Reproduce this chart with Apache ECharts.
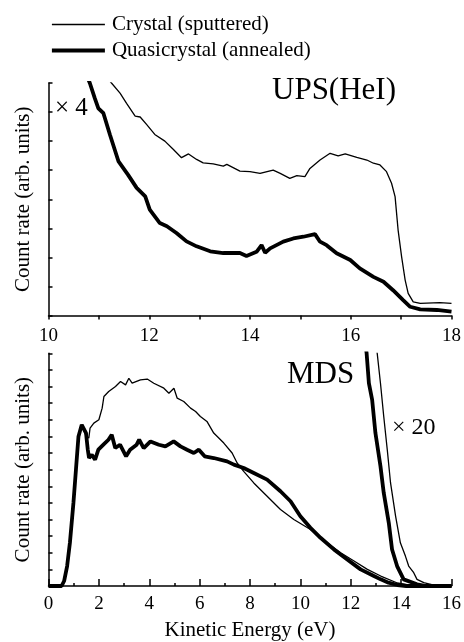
<!DOCTYPE html>
<html>
<head>
<meta charset="utf-8">
<script src="https://cdn.jsdelivr.net/npm/echarts/dist/echarts.min.js"></script>
<style>
  html, body { margin: 0; padding: 0; background: #fff; }
  #chart { width: 464px; height: 642px; }
</style>
</head>
<body>
<div id="chart"></div>
<script>
// UPS(HeI) panel, x4 scale
const upsEnergyCrystal = [11.15, 11.25, 11.42, 11.55, 11.72, 11.82, 11.95, 12.11, 12.31, 12.48, 12.64, 12.78, 12.94, 13.07, 13.27, 13.47, 13.54, 13.8, 14.0, 14.2, 14.46, 14.6, 14.79, 14.93, 15.09, 15.19, 15.39, 15.59, 15.75, 15.89, 16.12, 16.32, 16.45, 16.58, 16.71, 16.81, 16.88, 16.94, 17.01, 17.08, 17.14, 17.24, 17.38, 17.77, 18.0];
const upsCountCrystal = [8.2, 8.0, 7.65, 7.3, 6.86, 6.83, 6.57, 6.23, 6.0, 5.71, 5.43, 5.56, 5.37, 5.25, 5.22, 5.14, 5.2, 4.97, 4.95, 4.89, 5.0, 4.89, 4.72, 4.81, 4.78, 5.06, 5.35, 5.58, 5.49, 5.56, 5.44, 5.35, 5.24, 5.18, 4.95, 4.55, 4.09, 2.94, 2.02, 1.22, 0.76, 0.47, 0.42, 0.44, 0.42];

const upsEnergyQuasi = [10.75, 10.82, 10.92, 10.99, 11.09, 11.22, 11.39, 11.58, 11.75, 11.92, 12.01, 12.21, 12.35, 12.54, 12.74, 12.94, 13.21, 13.47, 13.8, 13.93, 14.13, 14.23, 14.3, 14.4, 14.66, 14.86, 15.06, 15.29, 15.39, 15.52, 15.72, 15.99, 16.18, 16.45, 16.65, 16.84, 17.04, 17.18, 17.38, 17.71, 18.0];
const upsCountQuasi = [8.3, 8.0, 7.47, 7.13, 6.96, 6.22, 5.3, 4.84, 4.39, 4.1, 3.64, 3.18, 3.07, 2.84, 2.55, 2.38, 2.21, 2.15, 2.15, 2.05, 2.19, 2.42, 2.16, 2.31, 2.54, 2.65, 2.71, 2.8, 2.54, 2.42, 2.14, 1.91, 1.62, 1.33, 1.16, 0.87, 0.53, 0.3, 0.21, 0.19, 0.13];

// MDS panel
const mdsEnergyCrystal = [0, 0.52, 0.62, 0.74, 0.85, 0.99, 1.09, 1.19, 1.32, 1.38, 1.5, 1.6, 1.65, 1.8, 2.0, 2.13, 2.2, 2.39, 2.66, 2.86, 3.06, 3.19, 3.32, 3.65, 3.92, 4.18, 4.58, 4.78, 4.98, 5.11, 5.37, 5.64, 5.84, 6.03, 6.29, 6.56, 6.96, 7.29, 7.49, 7.75, 8.15, 8.68, 9.21, 9.74, 10.4, 11.07, 11.6, 12.13, 12.66, 13.19, 13.85, 14.5, 16];
const mdsCountCrystal = [0, 0, 0.3, 1.2, 2.6, 5.0, 7.0, 9.0, 9.7, 9.8, 9.0, 8.9, 9.5, 9.8, 10.0, 10.7, 11.4, 11.7, 12.0, 12.3, 12.1, 12.5, 12.2, 12.4, 12.45, 12.2, 11.9, 11.6, 11.9, 11.3, 11.1, 10.7, 10.5, 10.2, 9.9, 9.2, 8.6, 8.0, 7.4, 6.9, 6.2, 5.4, 4.6, 4.0, 3.4, 2.6, 2.0, 1.5, 1.0, 0.6, 0.18, 0, 0];

const mdsEnergyQuasi = [0, 0.52, 0.62, 0.74, 0.85, 0.99, 1.09, 1.19, 1.32, 1.38, 1.49, 1.56, 1.61, 1.72, 1.85, 1.98, 2.18, 2.38, 2.51, 2.65, 2.84, 3.08, 3.24, 3.5, 3.6, 3.78, 4.05, 4.38, 4.64, 4.97, 5.24, 5.5, 5.77, 5.97, 6.2, 6.56, 7.09, 7.36, 7.75, 8.15, 8.68, 9.21, 9.61, 10.0, 10.4, 10.8, 11.33, 11.86, 12.39, 12.92, 13.19, 13.5, 13.85, 14.2, 16];
const mdsCountQuasi = [0, 0, 0.3, 1.2, 2.6, 5.0, 7.0, 9.0, 9.7, 9.8, 9.2, 8.2, 7.7, 7.9, 7.6, 8.2, 8.5, 8.8, 9.1, 8.3, 8.5, 7.8, 8.2, 8.5, 8.8, 8.3, 8.7, 8.5, 8.4, 8.7, 8.4, 8.2, 8.0, 8.2, 7.8, 7.7, 7.5, 7.3, 7.1, 6.8, 6.4, 5.7, 5.1, 4.2, 3.5, 2.9, 2.2, 1.6, 1.0, 0.6, 0.4, 0.2, 0.06, 0, 0];

// MDS tail, x20 scale
const tailEnergyCrystal = [12.95, 13.05, 13.18, 13.31, 13.45, 13.58, 13.78, 13.97, 14.17, 14.3, 14.5, 14.63, 14.9, 15.3, 16];
const tailCountCrystal = [15.5, 14, 12.2, 10.2, 8.2, 6.2, 4.2, 2.6, 1.8, 1.2, 0.8, 0.4, 0.2, 0.05, 0];
const tailEnergyQuasi = [12.5, 12.63, 12.72, 12.85, 12.98, 13.18, 13.31, 13.51, 13.64, 13.84, 14.1, 14.63, 15, 16];
const tailCountQuasi = [15.5, 14, 12.2, 11.2, 9.2, 7.2, 5.6, 3.8, 2.2, 1.2, 0.4, 0.1, 0, 0];

const seriesNames = ["Crystal (sputtered)", "Quasicrystal (annealed)"];

function pairs(xs, ys) {
  return xs.map((x, i) => [x, ys[i]]);
}

const font = "Liberation Serif";
const black = "#000";
const thin = 1.3;
const thick = 3.8;

function lineSeries(name, xi, xs, ys, width) {
  return {
    name: name,
    type: "line",
    xAxisIndex: xi,
    yAxisIndex: xi,
    symbol: "none",
    lineStyle: { color: black, width: width },
    itemStyle: { color: black },
    data: pairs(xs, ys),
  };
}

const axisLine = { show: true, lineStyle: { color: black, width: 1.5 } };

const chart = echarts.init(document.getElementById("chart"));
chart.setOption({
  animation: false,
  backgroundColor: "#fff",
  legend: {
    data: seriesNames,
    orient: "vertical",
    left: 50,
    top: 14,
    padding: 0,
    itemWidth: 53,
    itemHeight: 14,
    itemGap: 5,
    lineStyle: { width: "inherit" },
    itemStyle: { opacity: 0 },
    textStyle: { fontFamily: font, fontSize: 21, color: black, lineHeight: 20, padding: [0, 0, 0, 2] },
  },
  title: [
    { text: "UPS(HeI)", left: 272, top: 75, padding: 0, textStyle: { fontFamily: font, fontSize: 31, fontWeight: "normal", color: black } },
    { text: "MDS", left: 287, top: 359, padding: 0, textStyle: { fontFamily: font, fontSize: 31, fontWeight: "normal", color: black } },
    { text: "× 4", left: 55, top: 96, padding: 0, textStyle: { fontFamily: font, fontSize: 25, fontWeight: "normal", color: black } },
    { text: "× 20", left: 392, top: 416, padding: 0, textStyle: { fontFamily: font, fontSize: 24, fontWeight: "normal", color: black } },
  ],
  grid: [
    { left: 48.5, top: 83, width: 403, height: 232.5 },
    { left: 48.5, top: 353.3, width: 403, height: 233.4 },
  ],
  xAxis: [
    {
      gridIndex: 0,
      type: "value",
      min: 10,
      max: 18,
      interval: 1,
      axisLine: axisLine,
      axisTick: { show: true, inside: false, length: 4, lineStyle: { color: black, width: 1.5 } },
      axisLabel: {
        margin: 11,
        fontFamily: font,
        fontSize: 19,
        color: black,
        formatter: (v) => (v % 2 === 0 ? v : ""),
      },
      splitLine: { show: false },
    },
    {
      gridIndex: 1,
      type: "value",
      min: 0,
      max: 16,
      interval: 2,
      axisLine: axisLine,
      axisTick: { show: true, inside: true, length: 7, lineStyle: { color: black, width: 1.5 } },
      minorTick: { show: true, splitNumber: 2, length: 3, lineStyle: { color: black, width: 1.5 } },
      axisLabel: { margin: 9, fontFamily: font, fontSize: 19, color: black },
      splitLine: { show: false },
      name: "Kinetic Energy (eV)",
      nameLocation: "middle",
      nameGap: 34,
      nameTextStyle: { fontFamily: font, fontSize: 21, color: black },
    },
  ],
  yAxis: [
    {
      gridIndex: 0,
      type: "value",
      min: 0,
      max: 8,
      interval: 1,
      axisLine: axisLine,
      axisTick: { show: true, inside: true, length: 4, lineStyle: { color: black, width: 1.5 } },
      axisLabel: { show: false },
      splitLine: { show: false },
      name: "Count rate (arb. units)",
      nameLocation: "middle",
      nameGap: 15,
      nameTextStyle: { fontFamily: font, fontSize: 21, color: black },
    },
    {
      gridIndex: 1,
      type: "value",
      min: 0,
      max: 14,
      interval: 1,
      axisLine: axisLine,
      axisTick: { show: true, inside: true, length: 4, lineStyle: { color: black, width: 1.5 } },
      axisLabel: { show: false },
      splitLine: { show: false },
      name: "Count rate (arb. units)",
      nameLocation: "middle",
      nameGap: 15,
      nameTextStyle: { fontFamily: font, fontSize: 21, color: black },
    },
  ],
  series: [
    lineSeries(seriesNames[0], 0, upsEnergyCrystal, upsCountCrystal, thin),
    lineSeries(seriesNames[1], 0, upsEnergyQuasi, upsCountQuasi, thick),
    lineSeries(seriesNames[0], 1, mdsEnergyCrystal, mdsCountCrystal, thin),
    lineSeries(seriesNames[1], 1, mdsEnergyQuasi, mdsCountQuasi, thick),
    lineSeries(seriesNames[0], 1, tailEnergyCrystal, tailCountCrystal, thin),
    lineSeries(seriesNames[1], 1, tailEnergyQuasi, tailCountQuasi, thick),
  ],
});
</script>
</body>
</html>
